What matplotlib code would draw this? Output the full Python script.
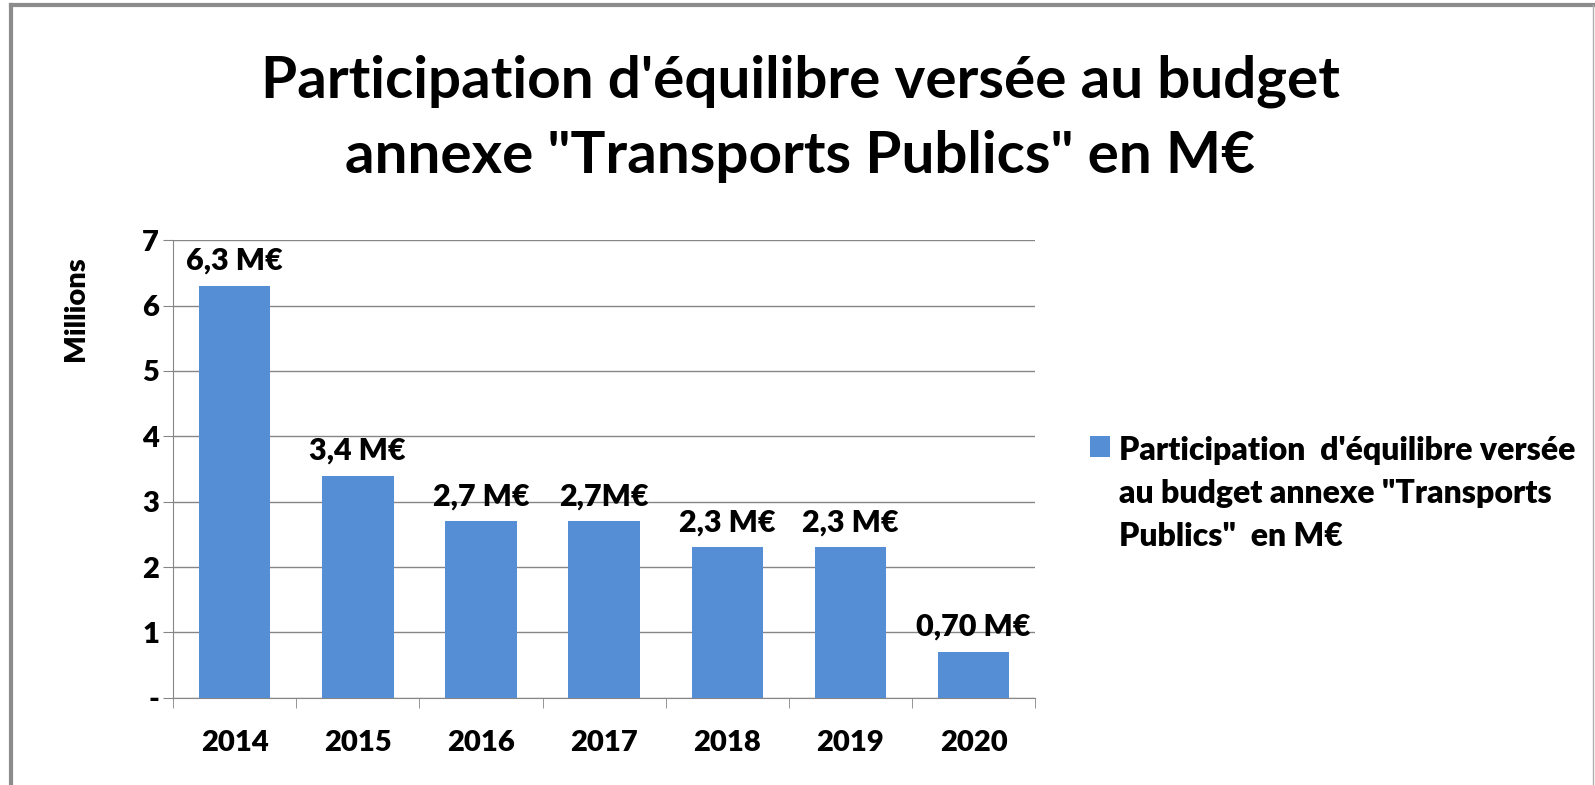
import matplotlib.pyplot as plt
from matplotlib.lines import Line2D

# data
years = ["2014", "2015", "2016", "2017", "2018", "2019", "2020"]
values = [6.3, 3.4, 2.7, 2.7, 2.3, 2.3, 0.7]
bar_labels = ["6,3 M€", "3,4 M€", "2,7 M€", "2,7M€", "2,3 M€", "2,3 M€", "0,70 M€"]
y_ticks = [0, 1, 2, 3, 4, 5, 6, 7]
y_tick_labels = ["-", "1", "2", "3", "4", "5", "6", "7"]

title = "Participation d'équilibre versée au budget\nannexe \"Transports Publics\" en M€"
legend_text = "Participation  d'équilibre versée\nau budget annexe \"Transports\nPublics\"  en M€"

plt.rcParams['font.family'] = ['Lato', 'DejaVu Sans']
plt.rcParams['font.weight'] = 'heavy'

bar_color = "#558ed5"
grid_color = "#868686"
w = "heavy"

fig = plt.figure(figsize=(15.95, 7.85), dpi=100)
ax = fig.add_axes([0.1085, 0.111, 0.5405, 0.583])

x = range(len(years))
bars = ax.bar(x, values, width=0.58, color=bar_color, zorder=3, label=legend_text)

for b, lab in zip(bars, bar_labels):
    ax.annotate(lab, (b.get_x() + b.get_width() / 2, b.get_height()),
                xytext=(0, 8), textcoords="offset points",
                ha="center", va="bottom", fontsize=22, fontweight=w)

ax.set_xlim(-0.5, len(years) - 0.5)
ax.set_ylim(0, 7)
ax.set_yticks(y_ticks)
ax.set_yticklabels(y_tick_labels)
ax.set_xticks([i + 0.5 for i in range(-1, len(years))], minor=True)
ax.set_xticks(list(x))
ax.set_xticklabels(years)

ax.tick_params(axis="x", which="major", length=0, pad=23, labelsize=21)
ax.tick_params(axis="x", which="minor", length=7, color=grid_color, direction="out")
ax.tick_params(axis="y", length=7, color=grid_color, direction="out", pad=3, labelsize=21)
for lab in ax.get_xticklabels() + ax.get_yticklabels():
    lab.set_fontweight(w)

ax.yaxis.grid(True, color=grid_color, linewidth=1, zorder=0)
for side in ["top", "right"]:
    ax.spines[side].set_visible(False)
ax.spines["left"].set_color(grid_color)
ax.spines["bottom"].set_color(grid_color)

fig.text(76 / 1595, 1 - 309 / 785, "Millions", rotation=90, ha="center", va="center",
         fontsize=21, fontweight=w)

fig.text(0.5016, 0.849, title, ha="center", va="center", fontsize=42,
         fontweight="bold", linespacing=1.52)

leg = fig.legend(loc="upper left", bbox_to_anchor=(1090 / 1595, 1 - 436 / 785), frameon=False,
                 fontsize=23, handlelength=0.62, handleheight=0.62,
                 handletextpad=0.28, borderpad=0, borderaxespad=0)
for t in leg.get_texts():
    t.set_linespacing(1.58)
    t.set_fontweight(w)
# put the colour square next to the first line, not the middle one
for col in leg._legend_handle_box.get_children():
    for row in col.get_children():
        row.align = "top"

# outer frame of the original screenshot
fig.add_artist(Line2D([11 / 1595, 11 / 1595], [0, 1 - 5 / 785], transform=fig.transFigure,
                      color="#8c8c8c", linewidth=3))
fig.add_artist(Line2D([11 / 1595, 1593 / 1595], [1 - 5 / 785, 1 - 5 / 785],
                      transform=fig.transFigure, color="#8c8c8c", linewidth=3))
fig.add_artist(Line2D([1593 / 1595, 1593 / 1595], [0, 1 - 5 / 785], transform=fig.transFigure,
                      color="#b0b0b0", linewidth=1))

fig.savefig("out.png", dpi=100)
